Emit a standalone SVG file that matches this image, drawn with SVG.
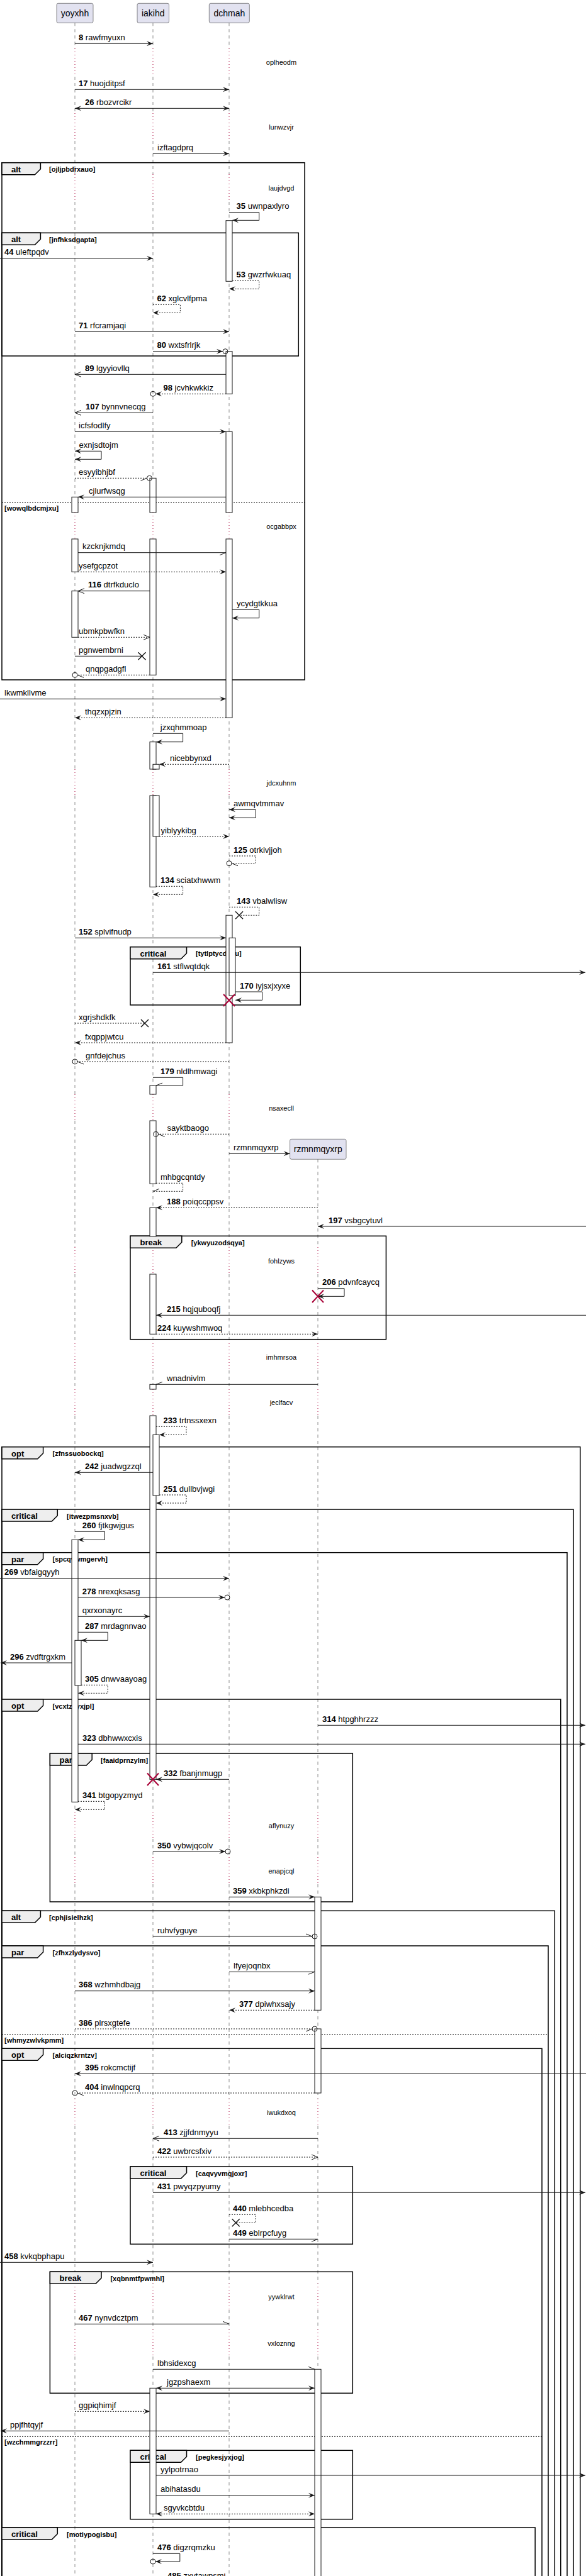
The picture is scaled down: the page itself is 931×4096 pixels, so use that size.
<svg xmlns="http://www.w3.org/2000/svg" width="931" height="4096" viewBox="0 0 931 4096">
<style>
.t{font-family:"Liberation Sans",Arial,sans-serif;font-size:13px;fill:#000}
.b{font-weight:bold}
.dt{font-family:"Liberation Sans",Arial,sans-serif;font-size:11px;fill:#000;text-anchor:middle}
.pn{font-family:"Liberation Sans",Arial,sans-serif;font-size:14px;fill:#000;text-anchor:middle}
.tl{font-family:"Liberation Sans",Arial,sans-serif;font-size:13px;font-weight:bold;fill:#000}
.g{font-family:"Liberation Sans",Arial,sans-serif;font-size:11px;font-weight:bold;fill:#000}
.ll{fill:none;stroke:#181818;stroke-width:0.5;stroke-dasharray:5,5}
.dl{fill:none;stroke:#A80036;stroke-width:1;stroke-dasharray:1,4}
.pb{fill:#E2E2F0;stroke:#181818;stroke-width:0.5}
.act{fill:#fff;stroke:#181818;stroke-width:1}
.fr{fill:none;stroke:#000;stroke-width:1.5}
.tab{fill:#EEEEEE;stroke:#000;stroke-width:1.5}
.sep{stroke:#000;stroke-width:1;stroke-dasharray:2,2}
.m{fill:none;stroke:#181818;stroke-width:1}
.d{stroke-dasharray:2,2}
.c{fill:none;stroke:#181818;stroke-width:1}
.x{stroke:#181818;stroke-width:1.5}
.rx{stroke:#A80036;stroke-width:2}
</style>
<defs>
<marker id="fa" viewBox="-1 -1 12 10" refX="10" refY="4" markerWidth="12" markerHeight="10" markerUnits="userSpaceOnUse" orient="auto-start-reverse"><path d="M0,0L10,4L0,8L4,4Z" fill="#181818"/></marker>
<marker id="oa" viewBox="-1 -1 12 10" refX="10" refY="4" markerWidth="12" markerHeight="10" markerUnits="userSpaceOnUse" orient="auto-start-reverse"><path d="M0,0L10,4L0,8" fill="none" stroke="#181818"/></marker>
<marker id="hd" viewBox="-1 -1 12 10" refX="10" refY="4" markerWidth="12" markerHeight="10" markerUnits="userSpaceOnUse" orient="auto-start-reverse"><path d="M0,8L10,4" fill="none" stroke="#181818"/></marker>
<marker id="hu" viewBox="-1 -1 12 10" refX="10" refY="4" markerWidth="12" markerHeight="10" markerUnits="userSpaceOnUse" orient="auto-start-reverse"><path d="M0,0L10,4" fill="none" stroke="#181818"/></marker>
</defs>
<rect width="931" height="4096" fill="#fff"/>

<g id="lifelines">
<path class="ll" d="M119,36.3V77M119,122V180M119,224V277M119,321V815M119,857V1223M119,1265V1740M119,1782V1983M119,2026V2136M119,2179V2209M119,2251V2881M119,2924V2953M119,2996V3337M119,3380V3631M119,3673V3704M119,3747V4096"/>
<path class="dl" d="M119,77V122M119,180V224M119,277V321M119,815V857M119,1223V1265M119,1740V1782M119,1983V2026M119,2136V2179M119,2209V2251M119,2881V2924M119,2953V2996M119,3337V3380M119,3631V3673M119,3704V3747"/>
<path class="ll" d="M243,36.3V77M243,122V180M243,224V277M243,321V815M243,857V1223M243,1265V1740M243,1782V1983M243,2026V2136M243,2179V2209M243,2251V2881M243,2924V2953M243,2996V3337M243,3380V3631M243,3673V3704M243,3747V4096"/>
<path class="dl" d="M243,77V122M243,180V224M243,277V321M243,815V857M243,1223V1265M243,1740V1782M243,1983V2026M243,2136V2179M243,2209V2251M243,2881V2924M243,2953V2996M243,3337V3380M243,3631V3673M243,3704V3747"/>
<path class="ll" d="M364,36.3V77M364,122V180M364,224V277M364,321V815M364,857V1223M364,1265V1740M364,1782V1983M364,2026V2136M364,2179V2209M364,2251V2881M364,2924V2953M364,2996V3337M364,3380V3631M364,3673V3704M364,3747V4096"/>
<path class="dl" d="M364,77V122M364,180V224M364,277V321M364,815V857M364,1223V1265M364,1740V1782M364,1983V2026M364,2136V2179M364,2209V2251M364,2881V2924M364,2953V2996M364,3337V3380M364,3631V3673M364,3704V3747"/>
<path class="ll" d="M505,1843.3V1983M505,2026V2136M505,2179V2209M505,2251V2881M505,2924V2953M505,2996V3337M505,3380V3631M505,3673V3704M505,3747V4096"/>
<path class="dl" d="M505,1983V2026M505,2136V2179M505,2209V2251M505,2881V2924M505,2953V2996M505,3337V3380M505,3631V3673M505,3704V3747"/>
</g>

<g id="delays">
<text class="dt" x="447" y="103">oplheodm</text>
<text class="dt" x="447" y="206">lunwzvjr</text>
<text class="dt" x="447" y="303">laujdvgd</text>
<text class="dt" x="447" y="840.7">ocgabbpx</text>
<text class="dt" x="447" y="1249.3">jdcxuhnm</text>
<text class="dt" x="447" y="1765.7">nsaxecll</text>
<text class="dt" x="447" y="2009.3">fohlzyws</text>
<text class="dt" x="447" y="2162.3">imhmrsoa</text>
<text class="dt" x="447" y="2234.3">jeclfacv</text>
<text class="dt" x="447" y="2906.7">aflynuzy</text>
<text class="dt" x="447" y="2978.7">enapjcql</text>
<text class="dt" x="447" y="3363">iwukdxoq</text>
<text class="dt" x="447" y="3656.3">yywklrwt</text>
<text class="dt" x="447" y="3729.7">vxloznng</text>
</g>

<g id="frames">
<g id="f-alt1"><rect class="fr" x="3" y="258.7" width="481" height="822.3"/><path class="tab" d="M3,258.7H64.4V268.7L55.4,277.7H3Z"/><text class="tl" x="18" y="273.7">alt</text><text class="g" x="78" y="273.2">[ojljpbdrxauo]</text><line class="sep" x1="3" y1="799.3" x2="484" y2="799.3"/><text class="g" x="7" y="811.8">[wowqlbdcmjxu]</text></g>
<g id="f-alt2"><rect class="fr" x="3" y="370.3" width="471.3" height="195.7"/><path class="tab" d="M3,370.3H64.4V380.3L55.4,389.3H3Z"/><text class="tl" x="18" y="385.3">alt</text><text class="g" x="78" y="384.8">[jnfhksdgapta]</text></g>
<g id="f-crit1"><rect class="fr" x="207" y="1505.7" width="270.3" height="92.3"/><path class="tab" d="M207,1505.7H296.5V1515.7L287.5,1524.7H207Z"/><text class="tl" x="222.5" y="1520.7">critical</text><text class="g" x="311" y="1520.2">[tytlptycdbxu]</text></g>
<g id="f-break1"><rect class="fr" x="207" y="1965.3" width="406.4" height="164.4"/><path class="tab" d="M207,1965.3H288.8V1975.3L279.8,1984.3H207Z"/><text class="tl" x="222.5" y="1980.3">break</text><text class="g" x="303.7" y="1979.8">[ykwyuzodsqya]</text></g>
<g id="f-opt1"><rect class="fr" x="3" y="2300.7" width="918.8" height="1810"/><path class="tab" d="M3,2300.7H68.6V2310.7L59.6,2319.7H3Z"/><text class="tl" x="18" y="2315.7">opt</text><text class="g" x="83.5" y="2315.2">[zfnssuobockq]</text></g>
<g id="f-crit2"><rect class="fr" x="3" y="2400" width="908" height="1710"/><path class="tab" d="M3,2400H91.3V2410L82.3,2419H3Z"/><text class="tl" x="18" y="2415">critical</text><text class="g" x="106" y="2414.5">[itwezpmsnxvb]</text></g>
<g id="f-par1"><rect class="fr" x="3" y="2468.7" width="898" height="1640"/><path class="tab" d="M3,2468.7H68.6V2478.7L59.6,2487.7H3Z"/><text class="tl" x="18" y="2483.7">par</text><text class="g" x="83.5" y="2483.2">[spcqvwmgervh]</text></g>
<g id="f-opt2"><rect class="fr" x="3" y="2702" width="887.8" height="1410"/><path class="tab" d="M3,2702H68.6V2712L59.6,2721H3Z"/><text class="tl" x="18" y="2717">opt</text><text class="g" x="83.5" y="2716.5">[vcxtzjjyxjpl]</text></g>
<g id="f-par2"><rect class="fr" x="79.4" y="2788" width="480.9" height="236"/><path class="tab" d="M79.4,2788H146.2V2798L137.2,2807H79.4Z"/><text class="tl" x="94.5" y="2803">par</text><text class="g" x="160" y="2802.5">[faaidprnzylm]</text></g>
<g id="f-alt3"><rect class="fr" x="3" y="3038.3" width="878.3" height="1075"/><path class="tab" d="M3,3038.3H64.4V3048.3L55.4,3057.3H3Z"/><text class="tl" x="18" y="3053.3">alt</text><text class="g" x="78" y="3052.8">[cphjisielhzk]</text></g>
<g id="f-par3"><rect class="fr" x="3" y="3094" width="868" height="1020"/><path class="tab" d="M3,3094H68.6V3104L59.6,3113H3Z"/><text class="tl" x="18" y="3109">par</text><text class="g" x="83.5" y="3108.5">[zfhxzlydysvo]</text><line class="sep" x1="3" y1="3235.3" x2="871" y2="3235.3"/><text class="g" x="7" y="3247.8">[whmyzwlvkpmm]</text></g>
<g id="f-opt3"><rect class="fr" x="3" y="3257.3" width="858" height="860"/><path class="tab" d="M3,3257.3H68.6V3267.3L59.6,3276.3H3Z"/><text class="tl" x="18" y="3272.3">opt</text><text class="g" x="83.5" y="3271.8">[alciqzkrntzv]</text><line class="sep" x1="3" y1="3874.3" x2="861" y2="3874.3"/><text class="g" x="7" y="3886.8">[wzchmmgrzzrr]</text></g>
<g id="f-crit3"><rect class="fr" x="207" y="3445" width="353.3" height="123.3"/><path class="tab" d="M207,3445H296.5V3455L287.5,3464H207Z"/><text class="tl" x="222.5" y="3460">critical</text><text class="g" x="311" y="3459.5">[caqvyvmqjoxr]</text></g>
<g id="f-break2"><rect class="fr" x="79.4" y="3612.3" width="480.9" height="193"/><path class="tab" d="M79.4,3612.3H161V3622.3L152,3631.3H79.4Z"/><text class="tl" x="94.5" y="3627.3">break</text><text class="g" x="175.4" y="3626.8">[xqbnmtfpwmhl]</text></g>
<g id="f-crit4"><rect class="fr" x="207" y="3896.3" width="353.3" height="109.4"/><path class="tab" d="M207,3896.3H296.5V3906.3L287.5,3915.3H207Z"/><text class="tl" x="222.5" y="3911.3">critical</text><text class="g" x="311" y="3910.8">[pegkesjyxjog]</text></g>
<g id="f-crit5"><rect class="fr" x="3" y="4019" width="847.2" height="100"/><path class="tab" d="M3,4019H91.3V4029L82.3,4038H3Z"/><text class="tl" x="18" y="4034">critical</text><text class="g" x="106" y="4033.5">[motiypogisbu]</text></g>
</g>

<g id="activations">
<rect class="act" x="359" y="350.7" width="10" height="96.6"/>
<rect class="act" x="359" y="558.7" width="10" height="67.6"/>
<rect class="act" x="359" y="686.3" width="10" height="128.7"/>
<rect class="act" x="359" y="857" width="10" height="284.3"/>
<rect class="act" x="359" y="1455.3" width="10" height="202.7"/>
<rect class="act" x="364" y="1491.3" width="10" height="91.7"/>
<rect class="act" x="238" y="760.3" width="10" height="54.7"/>
<rect class="act" x="238" y="857" width="10" height="216.3"/>
<rect class="act" x="238" y="1179.7" width="10" height="43.3"/>
<rect class="act" x="238" y="1265" width="10" height="145.3"/>
<rect class="act" x="243" y="1215.3" width="10" height="7.7"/>
<rect class="act" x="243" y="1265" width="10" height="65"/>
<rect class="act" x="238" y="1726" width="10" height="14"/>
<rect class="act" x="238" y="1782" width="10" height="100.3"/>
<rect class="act" x="238" y="1920.3" width="10" height="45.7"/>
<rect class="act" x="238" y="2026" width="10" height="95.3"/>
<rect class="act" x="238" y="2201.3" width="10" height="7.7"/>
<rect class="act" x="238" y="2251" width="10" height="578.3"/>
<rect class="act" x="243" y="2281.3" width="10" height="96.7"/>
<rect class="act" x="238" y="3797.3" width="10" height="200"/>
<rect class="act" x="114" y="790.3" width="10" height="24.7"/>
<rect class="act" x="114" y="857" width="10" height="52.3"/>
<rect class="act" x="114" y="939.7" width="10" height="73.6"/>
<rect class="act" x="114" y="2448.3" width="10" height="417"/>
<rect class="act" x="119" y="2608.3" width="10" height="71.7"/>
<rect class="act" x="500" y="3016.3" width="10" height="180"/>
<rect class="act" x="500" y="3226" width="10" height="102"/>
<rect class="act" x="500" y="3767.3" width="10" height="340"/>
</g>

<g id="yoyxhh"><rect class="pb" x="90" y="5.3" width="58" height="31" rx="2.5"/><text class="pn" x="119" y="26">yoyxhh</text></g>
<g id="iakihd"><rect class="pb" x="218" y="5.3" width="50.5" height="31" rx="2.5"/><text class="pn" x="243.2" y="26">iakihd</text></g>
<g id="dchmah"><rect class="pb" x="332.3" y="5.3" width="64" height="31" rx="2.5"/><text class="pn" x="364.3" y="26">dchmah</text></g>
<g id="rzmnmqyxrp"><rect class="pb" x="460.6" y="1811.3" width="89.4" height="32" rx="2.5"/><text class="pn" x="505.3" y="1832">rzmnmqyxrp</text></g>

<g id="connectors">
<line class="m" x1="119" y1="69.3" x2="243" y2="69.3" marker-end="url(#fa)"/><text class="t" x="125" y="63.8"><tspan class="b">8</tspan> rawfmyuxn</text>
<line class="m" x1="119" y1="142.3" x2="364" y2="142.3" marker-end="url(#fa)"/><text class="t" x="125" y="136.8"><tspan class="b">17</tspan> huojditpsf</text>
<line class="m" x1="119" y1="172.3" x2="364" y2="172.3" marker-start="url(#fa)" marker-end="url(#fa)"/><text class="t" x="135" y="166.8"><tspan class="b">26</tspan> rbozvrcikr</text>
<line class="m" x1="243" y1="244.3" x2="364" y2="244.3" marker-end="url(#fa)"/><text class="t" x="250" y="238.8">izftagdprq</text>
<path class="m" d="M364,337.7H411.7V350.3H369" marker-end="url(#fa)"/><text class="t" x="375.6" y="332.2"><tspan class="b">35</tspan> uwnpaxlyro</text>
<line class="m" x1="0" y1="410.7" x2="243" y2="410.7" marker-end="url(#fa)"/><text class="t" x="7" y="405.2"><tspan class="b">44</tspan> uleftpqdv</text>
<path class="m d" d="M369,446.3H411.7V459.3H364" marker-end="url(#fa)"/><text class="t" x="375.6" y="440.8"><tspan class="b">53</tspan> gwzrfwkuaq</text>
<path class="m d" d="M243,484.3H286.4V497.3H243" marker-end="url(#fa)"/><text class="t" x="249.5" y="478.8"><tspan class="b">62</tspan> xglcvlfpma</text>
<line class="m" x1="119" y1="527.3" x2="364" y2="527.3" marker-end="url(#fa)"/><text class="t" x="125" y="521.8"><tspan class="b">71</tspan> rfcramjaqi</text>
<line class="m" x1="243" y1="558.7" x2="354" y2="558.7" marker-end="url(#fa)"/><circle class="c" cx="358" cy="558.7" r="4"/><text class="t" x="249.5" y="553.2"><tspan class="b">80</tspan> wxtsfrlrjk</text>
<line class="m" x1="359" y1="595.3" x2="119" y2="595.3" marker-end="url(#oa)"/><text class="t" x="135" y="589.8"><tspan class="b">89</tspan> lgyyiovllq</text>
<line class="m d" x1="359" y1="626.3" x2="247" y2="626.3" marker-end="url(#fa)"/><circle class="c" cx="243" cy="626.3" r="4"/><text class="t" x="259.5" y="620.8"><tspan class="b">98</tspan> jcvhkwkkiz</text>
<line class="m" x1="243" y1="656.3" x2="119" y2="656.3" marker-end="url(#oa)"/><text class="t" x="136" y="650.8"><tspan class="b">107</tspan> bynnvnecqg</text>
<line class="m" x1="119" y1="686.3" x2="359" y2="686.3" marker-end="url(#fa)"/><text class="t" x="125" y="680.8">icfsfodlfy</text>
<path class="m" d="M119,717.3H161V730.3H119" marker-start="url(#fa)" marker-end="url(#fa)"/><text class="t" x="125.6" y="711.8">exnjsdtojm</text>
<line class="m d" x1="119" y1="760.3" x2="233.5" y2="760.3" marker-end="url(#hd)"/><circle class="c" cx="237.5" cy="760.3" r="4"/><text class="t" x="125" y="754.8">esyyibhjbf</text>
<line class="m" x1="359" y1="790.3" x2="124" y2="790.3" marker-end="url(#fa)"/><text class="t" x="141" y="784.8">cjlurfwsqg</text>
<line class="m" x1="124" y1="878.7" x2="359" y2="878.7" marker-end="url(#hd)"/><text class="t" x="131" y="873.2">kzcknjkmdq</text>
<line class="m d" x1="124" y1="909.3" x2="359" y2="909.3" marker-end="url(#fa)"/><text class="t" x="125" y="903.8">ysefgcpzot</text>
<line class="m" x1="238" y1="939.7" x2="124" y2="939.7" marker-end="url(#oa)"/><text class="t" x="140" y="934.2"><tspan class="b">116</tspan> dtrfkduclo</text>
<path class="m" d="M369,969.3H411.7V982.7H369" marker-end="url(#fa)"/><text class="t" x="376" y="963.8">ycydgtkkua</text>
<line class="m d" x1="124" y1="1013.3" x2="238" y2="1013.3" marker-end="url(#oa)"/><text class="t" x="125" y="1007.8">ubmkpbwfkn</text>
<line class="m" x1="119" y1="1043.3" x2="225.5" y2="1043.3"/><path class="x" d="M219.5,1037.3L231.5,1049.3M219.5,1049.3L231.5,1037.3"/><text class="t" x="125" y="1037.8">pgnwembrni</text>
<line class="m d" x1="238" y1="1073.3" x2="123" y2="1073.3" marker-end="url(#hu)"/><circle class="c" cx="119" cy="1073.3" r="4"/><text class="t" x="136" y="1067.8">qnqpgadgfl</text>
<line class="m" x1="0" y1="1111.3" x2="359" y2="1111.3" marker-end="url(#fa)"/><text class="t" x="7" y="1105.8">lkwmkllvme</text>
<line class="m d" x1="359" y1="1141.3" x2="119" y2="1141.3" marker-end="url(#fa)"/><text class="t" x="135" y="1135.8">thqzxpjzin</text>
<path class="m" d="M243,1166.3H290.6V1179.7H248" marker-end="url(#fa)"/><text class="t" x="254.8" y="1160.8">jzxqhmmoap</text>
<line class="m d" x1="364" y1="1215.3" x2="253" y2="1215.3" marker-end="url(#fa)"/><text class="t" x="270" y="1209.8">nicebbynxd</text>
<path class="m" d="M364,1287.3H406.3V1300.3H364" marker-start="url(#fa)" marker-end="url(#fa)"/><text class="t" x="371" y="1281.8">awmqvtmmav</text>
<line class="m d" x1="253" y1="1330" x2="364" y2="1330" marker-end="url(#fa)"/><text class="t" x="255.5" y="1324.5">yiblyykibg</text>
<path class="m d" d="M364,1361H406.3V1372.7H368" marker-end="url(#hu)"/><circle class="c" cx="364" cy="1372.7" r="4"/><text class="t" x="371" y="1355.5"><tspan class="b">125</tspan> otrkivjjoh</text>
<path class="m d" d="M248,1409.3H290.6V1422.3H243" marker-end="url(#fa)"/><text class="t" x="255" y="1403.8"><tspan class="b">134</tspan> sciatxhwwm</text>
<path class="m d" d="M364,1442.3H411.7V1455.3H380"/><path class="x" d="M374,1449.3L386,1461.3M374,1461.3L386,1449.3"/><text class="t" x="376" y="1436.8"><tspan class="b">143</tspan> vbalwlisw</text>
<line class="m" x1="119" y1="1491.3" x2="359" y2="1491.3" marker-end="url(#fa)"/><text class="t" x="125" y="1485.8"><tspan class="b">152</tspan> splvifnudp</text>
<line class="m" x1="243" y1="1546.3" x2="930" y2="1546.3" marker-end="url(#fa)"/><text class="t" x="250" y="1540.8"><tspan class="b">161</tspan> stflwqtdqk</text>
<path class="m" d="M374,1577H416.5V1590.3H374" marker-end="url(#fa)"/><text class="t" x="381" y="1571.5"><tspan class="b">170</tspan> iyjsxjxyxe</text>
<path class="rx" d="M355,1581L373,1600M355,1600L373,1581"/>
<line class="m d" x1="119" y1="1627" x2="230" y2="1627"/><path class="x" d="M224,1621L236,1633M224,1633L236,1621"/><text class="t" x="125" y="1621.5">xgrjshdkfk</text>
<line class="m d" x1="359" y1="1658" x2="119" y2="1658" marker-end="url(#fa)"/><text class="t" x="135" y="1652.5">fxqppjwtcu</text>
<line class="m d" x1="364" y1="1688" x2="123" y2="1688" marker-end="url(#hu)"/><circle class="c" cx="119" cy="1688" r="4"/><text class="t" x="136" y="1682.5">gnfdejchus</text>
<path class="m" d="M243,1713.3H290.6V1726H248" marker-end="url(#hd)"/><text class="t" x="255" y="1707.8"><tspan class="b">179</tspan> nldlhmwagi</text>
<line class="m d" x1="364" y1="1803.3" x2="251.6" y2="1803.3" marker-end="url(#hu)"/><circle class="c" cx="247.6" cy="1803.3" r="4"/><text class="t" x="265.5" y="1797.8">sayktbaogo</text>
<line class="m" x1="364" y1="1834.3" x2="460.6" y2="1834.3" marker-end="url(#fa)"/><text class="t" x="371" y="1828.8">rzmnmqyxrp</text>
<path class="m d" d="M248,1881.3H290.6V1894.3H243" marker-end="url(#hd)"/><text class="t" x="255" y="1875.8">mhbgcqntdy</text>
<line class="m d" x1="505" y1="1920.3" x2="248" y2="1920.3" marker-end="url(#fa)"/><text class="t" x="265" y="1914.8"><tspan class="b">188</tspan> poiqccppsv</text>
<line class="m" x1="931" y1="1950" x2="505" y2="1950" marker-end="url(#fa)"/><text class="t" x="522" y="1944.5"><tspan class="b">197</tspan> vsbgcytuvl</text>
<path class="m" d="M505,2048.7H547V2061.3H505" marker-end="url(#fa)"/><text class="t" x="512" y="2043.2"><tspan class="b">206</tspan> pdvnfcaycq</text>
<path class="rx" d="M496,2051.5L514,2071M496,2071L514,2051.5"/>
<line class="m" x1="931" y1="2091.3" x2="248" y2="2091.3" marker-end="url(#fa)"/><text class="t" x="265" y="2085.8"><tspan class="b">215</tspan> hqjquboqfj</text>
<line class="m d" x1="248" y1="2121.3" x2="505" y2="2121.3" marker-end="url(#fa)"/><text class="t" x="250" y="2115.8"><tspan class="b">224</tspan> kuywshmwoq</text>
<line class="m" x1="505" y1="2201.3" x2="248" y2="2201.3" marker-end="url(#hd)"/><text class="t" x="265" y="2195.8">wnadnivlm</text>
<path class="m d" d="M248,2268.3H296V2281.3H253" marker-end="url(#fa)"/><text class="t" x="259.5" y="2262.8"><tspan class="b">233</tspan> trtnssxexn</text>
<line class="m" x1="243" y1="2341.3" x2="119" y2="2341.3" marker-end="url(#fa)"/><text class="t" x="135" y="2335.8"><tspan class="b">242</tspan> juadwgzzql</text>
<path class="m d" d="M253,2377H296V2390H248" marker-end="url(#fa)"/><text class="t" x="259.5" y="2371.5"><tspan class="b">251</tspan> dullbvjwgi</text>
<path class="m" d="M119,2435.3H166.5V2448.3H124" marker-end="url(#fa)"/><text class="t" x="130.7" y="2429.8"><tspan class="b">260</tspan> fjtkgwjgus</text>
<line class="m" x1="0" y1="2509.7" x2="364" y2="2509.7" marker-end="url(#fa)"/><text class="t" x="7" y="2504.2"><tspan class="b">269</tspan> vbfaigqyyh</text>
<line class="m" x1="124" y1="2540" x2="357" y2="2540" marker-end="url(#fa)"/><circle class="c" cx="361" cy="2540" r="4"/><text class="t" x="130.7" y="2534.5"><tspan class="b">278</tspan> nrexqksasg</text>
<line class="m" x1="124" y1="2570.3" x2="238" y2="2570.3" marker-end="url(#fa)"/><text class="t" x="130.7" y="2564.8">qxrxonayrc</text>
<path class="m" d="M124,2595.3H171.2V2608.3H129" marker-end="url(#fa)"/><text class="t" x="135" y="2589.8"><tspan class="b">287</tspan> mrdagnnvao</text>
<line class="m" x1="114" y1="2644" x2="1" y2="2644" marker-end="url(#fa)"/><text class="t" x="16" y="2638.5"><tspan class="b">296</tspan> zvdftrgxkm</text>
<path class="m d" d="M129,2679.3H171.2V2692.3H124" marker-end="url(#fa)"/><text class="t" x="135" y="2673.8"><tspan class="b">305</tspan> dnwvaayoag</text>
<line class="m" x1="505" y1="2743.3" x2="930" y2="2743.3" marker-end="url(#fa)"/><text class="t" x="512" y="2737.8"><tspan class="b">314</tspan> htpghhrzzz</text>
<line class="m" x1="124" y1="2773.3" x2="930" y2="2773.3" marker-end="url(#fa)"/><text class="t" x="131" y="2767.8"><tspan class="b">323</tspan> dbhwwxcxis</text>
<line class="m" x1="364" y1="2829.3" x2="248" y2="2829.3" marker-end="url(#fa)"/><path class="rx" d="M234,2819.5L252,2839M234,2839L252,2819.5"/><text class="t" x="260" y="2823.8"><tspan class="b">332</tspan> fbanjnmugp</text>
<path class="m d" d="M124,2864.3H166.5V2877.3H119" marker-end="url(#fa)"/><text class="t" x="131" y="2858.8"><tspan class="b">341</tspan> btgopyzmyd</text>
<line class="m" x1="243" y1="2944" x2="358" y2="2944" marker-end="url(#fa)"/><circle class="c" cx="362" cy="2944" r="4"/><text class="t" x="250" y="2938.5"><tspan class="b">350</tspan> vybwjqcolv</text>
<line class="m" x1="364" y1="3016.3" x2="500" y2="3016.3" marker-end="url(#fa)"/><text class="t" x="370" y="3010.8"><tspan class="b">359</tspan> xkbkphkzdi</text>
<line class="m" x1="243" y1="3079" x2="496" y2="3079" marker-end="url(#hu)"/><circle class="c" cx="500" cy="3079" r="4"/><text class="t" x="250" y="3073.5">ruhvfyguye</text>
<line class="m" x1="364" y1="3135.3" x2="500" y2="3135.3" marker-end="url(#hd)"/><text class="t" x="371" y="3129.8">lfyejoqnbx</text>
<line class="m" x1="119" y1="3165.7" x2="500" y2="3165.7" marker-end="url(#fa)"/><text class="t" x="125" y="3160.2"><tspan class="b">368</tspan> wzhmhdbajg</text>
<line class="m d" x1="500" y1="3196.3" x2="364" y2="3196.3" marker-end="url(#fa)"/><text class="t" x="380" y="3190.8"><tspan class="b">377</tspan> dpiwhxsajy</text>
<line class="m d" x1="119" y1="3226" x2="496" y2="3226" marker-end="url(#hd)"/><circle class="c" cx="500" cy="3226" r="4"/><text class="t" x="125" y="3220.5"><tspan class="b">386</tspan> plrsxgtefe</text>
<line class="m" x1="931" y1="3297.3" x2="119" y2="3297.3" marker-end="url(#fa)"/><text class="t" x="135" y="3291.8"><tspan class="b">395</tspan> rokcmctijf</text>
<line class="m d" x1="500" y1="3328" x2="123" y2="3328" marker-end="url(#hu)"/><circle class="c" cx="119" cy="3328" r="4"/><text class="t" x="135" y="3322.5"><tspan class="b">404</tspan> inwlnqpcrq</text>
<line class="m" x1="505" y1="3400.3" x2="243" y2="3400.3" marker-end="url(#oa)"/><text class="t" x="260" y="3394.8"><tspan class="b">413</tspan> zjjfdnmyyu</text>
<line class="m d" x1="243" y1="3430" x2="505" y2="3430" marker-end="url(#oa)"/><text class="t" x="250" y="3424.5"><tspan class="b">422</tspan> uwbrcsfxiv</text>
<line class="m" x1="243" y1="3486.3" x2="930" y2="3486.3" marker-end="url(#fa)"/><text class="t" x="250" y="3480.8"><tspan class="b">431</tspan> pwyqzpyumy</text>
<path class="m d" d="M364,3521.3H406.3V3534.3H374.7"/><path class="x" d="M368.7,3528.3L380.7,3540.3M368.7,3540.3L380.7,3528.3"/><text class="t" x="370" y="3515.8"><tspan class="b">440</tspan> mlebhcedba</text>
<line class="m" x1="364" y1="3560.3" x2="505" y2="3560.3" marker-end="url(#hd)"/><text class="t" x="370" y="3554.8"><tspan class="b">449</tspan> eblrpcfuyg</text>
<line class="m" x1="0" y1="3597.3" x2="243" y2="3597.3" marker-end="url(#fa)"/><text class="t" x="7" y="3591.8"><tspan class="b">458</tspan> kvkqbphapu</text>
<line class="m" x1="119" y1="3695.3" x2="364" y2="3695.3" marker-end="url(#hu)"/><text class="t" x="125" y="3689.8"><tspan class="b">467</tspan> nynvdcztpm</text>
<line class="m" x1="243" y1="3767.3" x2="500" y2="3767.3" marker-end="url(#hu)"/><text class="t" x="250" y="3761.8">lbhsidexcg</text>
<line class="m" x1="248" y1="3797.3" x2="500" y2="3797.3" marker-start="url(#fa)" marker-end="url(#fa)"/><text class="t" x="265" y="3791.8">jgzpshaexm</text>
<line class="m d" x1="119" y1="3834.3" x2="238" y2="3834.3" marker-end="url(#fa)"/><text class="t" x="125" y="3828.8">ggpiqhimjf</text>
<line class="m" x1="364" y1="3865.3" x2="1" y2="3865.3" marker-end="url(#fa)"/><text class="t" x="16" y="3859.8">ppjfhtqyjf</text>
<line class="m" x1="248" y1="3936" x2="930" y2="3936" marker-end="url(#fa)"/><text class="t" x="255" y="3930.5">yylpotrnao</text>
<line class="m" x1="248" y1="3967.7" x2="500" y2="3967.7" marker-end="url(#fa)"/><text class="t" x="255" y="3962.2">abihatasdu</text>
<line class="m d" x1="248" y1="3997.3" x2="500" y2="3997.3" marker-start="url(#fa)" marker-end="url(#fa)"/><text class="t" x="260" y="3991.8">sgyvkcbtdu</text>
<path class="m" d="M243,4060.3H285.8V4073H247" marker-end="url(#fa)"/><circle class="c" cx="243" cy="4073" r="4"/><text class="t" x="250" y="4054.8"><tspan class="b">476</tspan> digzrqmzku</text>
<text class="t" x="266" y="4100"><tspan class="b">485</tspan> zxvtawpsmj</text>
</g>
</svg>
